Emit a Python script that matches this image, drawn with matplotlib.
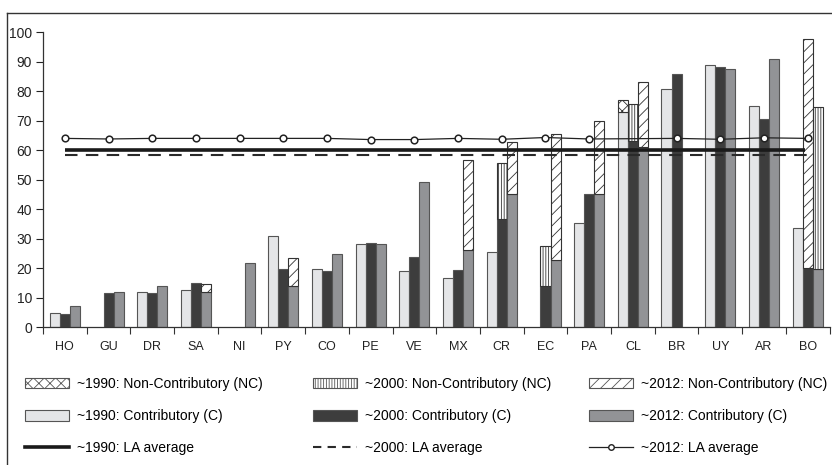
import matplotlib

matplotlib.use("Agg")
import matplotlib.pyplot as plt
import numpy as np
from matplotlib.lines import Line2D
from matplotlib.patches import Patch

# pension coverage (%) by country, three survey rounds
COUNTRIES = ["HO", "GU", "DR", "SA", "NI", "PY", "CO", "PE", "VE",
             "MX", "CR", "EC", "PA", "CL", "BR", "UY", "AR", "BO"]
C_1990 = [4.6, np.nan, 12.0, 12.5, np.nan, 31.0, 19.8, 28.3, 18.9,
          16.7, 25.3, np.nan, 35.2, 72.9, 80.7, 88.9, 75.0, 33.6]
NC_1990 = [np.nan] * 13 + [4.2] + [np.nan] * 4
C_2000 = [4.5, 11.4, 11.5, 14.8, np.nan, 19.7, 19.0, 28.4, 23.9,
          19.2, 36.7, 14.0, 45.0, 63.2, 85.7, 88.2, 70.7, 19.9]
NC_2000 = [np.nan, np.nan, np.nan, np.nan, np.nan, np.nan, np.nan, np.nan, np.nan,
           np.nan, 19.1, 13.4, np.nan, 12.4, np.nan, np.nan, np.nan, 77.7]
C_2012 = [7.2, 11.9, 14.0, 11.9, 21.6, 13.9, 24.9, 28.1, 49.3,
          26.0, 45.2, 22.7, 45.0, 61.0, np.nan, 87.4, 90.8, 19.6]
NC_2012 = [np.nan, np.nan, np.nan, 2.7, np.nan, 9.4, np.nan, np.nan, np.nan,
           30.7, 17.5, 42.7, 24.8, 22.0, np.nan, np.nan, np.nan, 55.2]
AVG_1990 = 60.0
AVG_2000 = 58.3
AVG_2012 = [64.0, 63.8, 64.0, 64.0, 64.0, 64.0, 64.0, 63.6, 63.6,
            64.0, 63.7, 64.3, 63.8, 63.9, 64.0, 63.7, 64.2, 64.0]

COL_90 = "#e4e5e7"
COL_00 = "#3d3d3d"
COL_12 = "#929396"
EDGE = "#555555"
HATCH_90 = "xxx"
HATCH_00 = "||||||"
HATCH_12 = "///"

plt.rcParams["font.family"] = ["Liberation Sans", "DejaVu Sans"]
plt.rcParams["hatch.linewidth"] = 0.6

W, H = 832, 465
fig = plt.figure(figsize=(W / 100, H / 100), dpi=100)
ax = fig.add_axes([43 / W, 1 - 327 / H, (829.5 - 43) / W, (327 - 32.3) / H])

n = len(COUNTRIES)
x = np.arange(n) + 0.5
bw = 0.23


def draw_bars(pos, c_vals, nc_vals, color, hatches):
    c_vals = np.asarray(c_vals, dtype=float)
    nc_vals = np.asarray(nc_vals, dtype=float)
    m = ~np.isnan(c_vals)
    ax.bar(pos[m], c_vals[m], bw, color=color, edgecolor=EDGE, linewidth=0.8, zorder=2)
    base = np.nan_to_num(c_vals)
    for i in np.where(~np.isnan(nc_vals))[0]:
        ax.bar(pos[i], nc_vals[i], bw, bottom=base[i], color="white",
               edgecolor="#333333", linewidth=0.8, hatch=hatches[i], zorder=2)


# BO's stacked non-contributory segments are shown with swapped patterns
h00 = [HATCH_00] * n
h12 = [HATCH_12] * n
h00[COUNTRIES.index("BO")] = HATCH_12
h12[COUNTRIES.index("BO")] = HATCH_00

draw_bars(x - bw, C_1990, NC_1990, COL_90, [HATCH_90] * n)
draw_bars(x, C_2000, NC_2000, COL_00, h00)
draw_bars(x + bw, C_2012, NC_2012, COL_12, h12)

# Latin America averages
ax.plot([x[0], x[-1] - 0.05], [AVG_1990, AVG_1990], color="#1a1a1a", lw=2.6,
        solid_capstyle="butt", zorder=4)
ax.plot([x[0], x[-1] + 0.1], [AVG_2000, AVG_2000], color="#2a2a2a", lw=1.5,
        dashes=(6, 4), zorder=4)
marks = [i for i in range(n) if COUNTRIES[i] != "CL"]
ax.plot(x, AVG_2012, color="#222222", lw=0.9, marker="o", ms=4.8,
        mfc="white", mec="#222222", mew=1.1, markevery=marks, zorder=5)

ax.set_xlim(0, n)
ax.set_ylim(0, 100)
ax.set_yticks(np.arange(0, 101, 10))
ax.set_xticks(np.arange(0, n + 1))
ax.set_xticklabels([])
ax.set_xticks(x, minor=True)
ax.set_xticklabels(COUNTRIES, minor=True, fontsize=9)
ax.tick_params(axis="x", which="major", direction="out", length=5, width=0.8, color="#333333")
ax.tick_params(axis="x", which="minor", length=0, pad=10, colors="#222222")
ax.tick_params(axis="y", direction="out", length=5, width=0.8, pad=3,
               labelsize=10, colors="#222222")
for side in ("top", "right"):
    ax.spines[side].set_visible(False)
for side in ("left", "bottom"):
    ax.spines[side].set_color("#333333")
    ax.spines[side].set_linewidth(0.9)

# outer frame (left and top edges only)
fig.add_artist(Line2D([7 / W, 7 / W], [0, 1 - 13 / H], transform=fig.transFigure,
                      color="#333333", lw=1.0))
fig.add_artist(Line2D([7 / W, 1], [1 - 13 / H, 1 - 13 / H], transform=fig.transFigure,
                      color="#333333", lw=1.0))

legend_cols = [
    (25, [Patch(facecolor="white", edgecolor=EDGE, hatch=HATCH_90, lw=0.8),
          Patch(facecolor=COL_90, edgecolor=EDGE, lw=0.8),
          Line2D([], [], color="#1a1a1a", lw=2.6)],
     ["~1990: Non-Contributory (NC)", "~1990: Contributory (C)", "~1990: LA average"]),
    (313, [Patch(facecolor="white", edgecolor=EDGE, hatch=HATCH_00, lw=0.8),
           Patch(facecolor=COL_00, edgecolor=EDGE, lw=0.8),
           Line2D([], [], color="#2a2a2a", lw=1.5, dashes=(4, 3))],
     ["~2000: Non-Contributory (NC)", "~2000: Contributory (C)", "~2000: LA average"]),
    (589, [Patch(facecolor="white", edgecolor=EDGE, hatch=HATCH_12, lw=0.8),
           Patch(facecolor=COL_12, edgecolor=EDGE, lw=0.8),
           Line2D([], [], color="#222222", lw=0.9, marker="o", ms=4,
                  mfc="white", mec="#222222", mew=1.0)],
     ["~2012: Non-Contributory (NC)", "~2012: Contributory (C)", "~2012: LA average"]),
]
for left, handles, labels in legend_cols:
    fig.legend(handles, labels, loc="upper left",
               bbox_to_anchor=(left / W, 1 - 377 / H), frameon=False,
               fontsize=10, handlelength=3.2, handleheight=0.8,
               handletextpad=0.55, labelspacing=1.3, borderaxespad=0,
               borderpad=0)

fig.savefig("out.png", dpi=100)
